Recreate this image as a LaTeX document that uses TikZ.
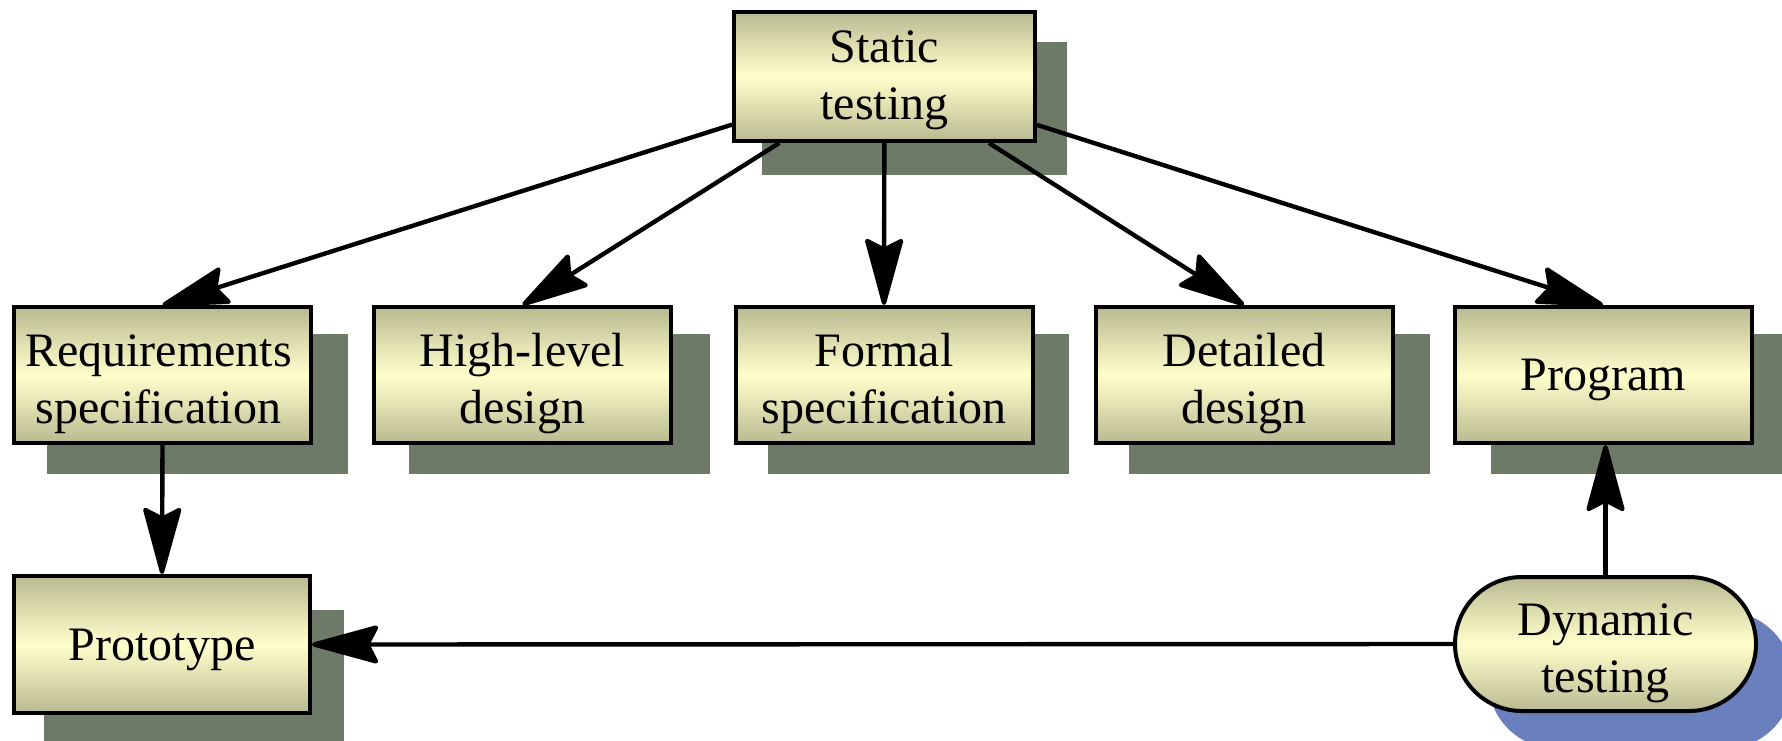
\documentclass[tikz,border=0pt]{standalone}
\usepackage{fontspec}
\setmainfont{Liberation Serif}
\usetikzlibrary{arrows.meta,backgrounds}
\definecolor{olivec}{RGB}{186,186,146}
\definecolor{creamc}{RGB}{255,255,204}
\definecolor{shadowc}{RGB}{110,122,104}
\definecolor{blueshadow}{RGB}{106,128,190}
\newcommand\twolines[2]{\begin{tabular}[t]{@{}c@{}}#1\\#2\end{tabular}}
\tikzset{
  box/.style={draw, line width=2pt, top color=olivec, bottom color=olivec, middle color=creamc,
    inner sep=0pt, font=\fontsize{24}{28.5}\selectfont},
  tworow/.style={text height=22pt, text depth=30.5pt},
  onerow/.style={text height=#1, text depth=5pt},
  rowbox/.style={box, minimum width=148.5pt, minimum height=68pt},
  arr/.style={line width=2.2pt, -{Stealth[length=37pt, width=20pt, inset=5pt, round]}},
  shade/.style={fill=shadowc},
}
\begin{document}
\begin{tikzpicture}[x=0.5pt, y=-0.5pt]
\useasboundingbox (0,0) rectangle (1782,740);
\clip (0,0) rectangle (1782,740);
\node[box, minimum width=150.5pt, minimum height=64.5pt, text height=18pt, text depth=32pt] (static) at (884.5,76.5) {\twolines{Static}{testing}};
\node[rowbox, tworow] (req) at (162.5,375) {\twolines{Requirements}{specification}\hspace*{4pt}};
\node[rowbox, tworow] (hl) at (522.5,375) {\twolines{High-level}{design}};
\node[rowbox, tworow] (formal) at (884,375) {\twolines{Formal}{specification}};
\node[rowbox, tworow] (det) at (1244,375) {\twolines{Detailed}{design}};
\node[rowbox, onerow=20pt] (prog) at (1603,375) {Program};
\node[box, onerow=20.5pt, minimum width=148pt, minimum height=68.5pt] (proto) at (162,644.5) {Prototype};
\node[box, tworow, minimum width=150.5pt, minimum height=67pt, rounded corners=33.5pt] (dyn) at (1605.5,644) {\twolines{Dynamic}{testing}};
\begin{scope}[on background layer]
  \fill[shade] ([shift={(30,32)}]static.south west) rectangle ([shift={(30,32)}]static.north east);
  \fill[shade] ([shift={(35,29)}]req.south west) rectangle ([shift={(35,29)}]req.north east);
  \fill[shade] ([shift={(37,29)}]hl.south west) rectangle ([shift={(37,29)}]hl.north east);
  \fill[shade] ([shift={(34,29)}]formal.south west) rectangle ([shift={(34,29)}]formal.north east);
  \fill[shade] ([shift={(35,29)}]det.south west) rectangle ([shift={(35,29)}]det.north east);
  \fill[shade] ([shift={(38,29)}]prog.south west) rectangle ([shift={(38,29)}]prog.north east);
  \fill[shade] ([shift={(32,36)}]proto.south west) rectangle ([shift={(32,36)}]proto.north east);
  \fill[blueshadow, rounded corners=34.5pt] ([shift={(35,36)}]dyn.south west) rectangle ([shift={(35,36)}]dyn.north east);
\end{scope}
\draw[arr] (static) -- (req.north);
\draw[arr] (static) -- (hl.north);
\draw[arr] (static) -- (formal.north);
\draw[arr] (static) -- (det.north);
\draw[arr] (static) -- (prog.north);
\draw[arr] (req.south) -- (proto.north);
\draw[arr] (dyn.north) -- (dyn.north |- prog.south);
\draw[arr] (dyn.west) -- (proto.east);
\end{tikzpicture}
\end{document}
